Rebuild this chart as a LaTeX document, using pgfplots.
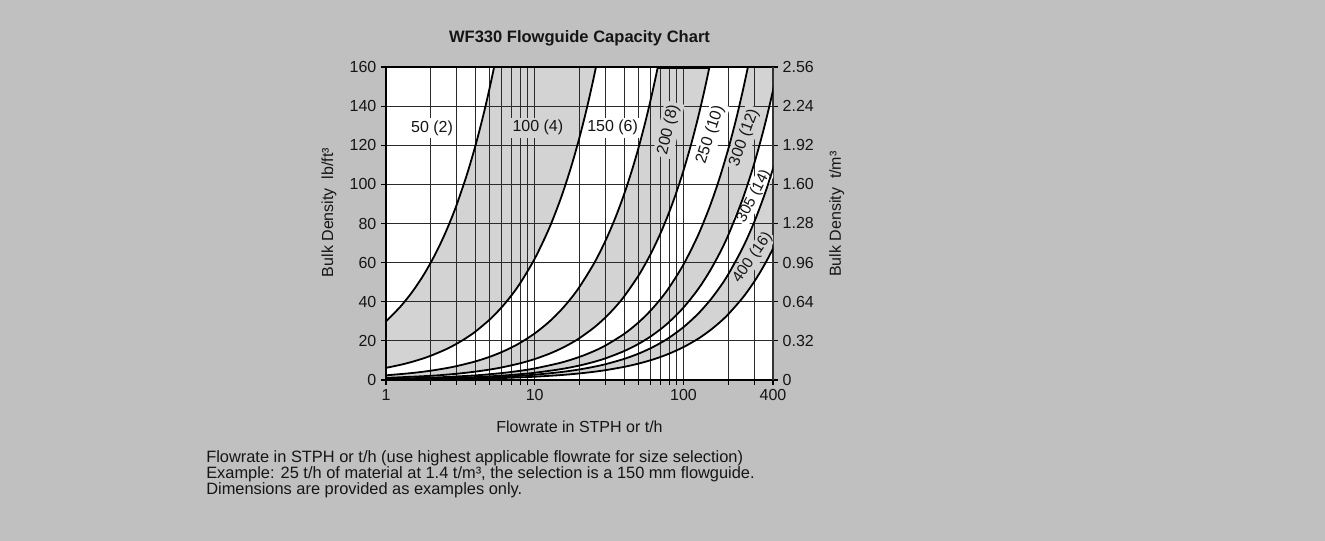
\documentclass[border=0pt]{standalone}
\usepackage{pgfplots}
\pgfplotsset{compat=1.18}
\usepackage{pgfplotstable}
\usepackage{fontspec}
\setmainfont{Liberation Sans}
\definecolor{bg}{HTML}{C0C0C0}
\definecolor{band}{HTML}{D3D3D3}
\definecolor{gridc}{HTML}{2A2A2A}
\definecolor{txt}{HTML}{151515}

\pgfplotstableread{
x y
1 30
1.25 37.5
1.5 45
1.75 52.5
2 60
2.25 67.5
2.5 75
2.75 82.5
3 90
3.5 105
4 120
4.5 135
5 150
5.5 165
6 180
450 180
}\cA
\pgfplotstableread{
x y
1 6.2
1.25 7.75
1.5 9.3
1.75 10.85
2 12.4
2.5 15.5
3 18.6
3.5 21.7
4 24.8
5 31
6 37.2
7 43.4
8 49.6
10 62
12.5 77.5
15 93
17.5 108.5
20 124
22.5 139.5
25 155
27.5 170.5
30 186
450 186
}\cB
\pgfplotstableread{
x y
1 2.38
1.5 3.57
2 4.76
2.5 5.95
3 7.14
4 9.52
5 11.9
6 14.28
7 16.66
8 19.04
10 23.8
12.5 29.75
15 35.7
17.5 41.65
20 47.6
25 59.5
30 71.4
35 83.3
40 95.2
45 107.1
50 119
55 130.9
60 142.8
65 154.7
70 166.6
75 178.5
450 178.5
}\cC
\pgfplotstableread{
x y
1 1.07
2 2.14
3 3.21
4 4.28
5 5.35
6 6.42
8 8.56
10 10.7
12.5 13.375
15 16.05
17.5 18.725
20 21.4
25 26.75
30 32.1
35 37.45
40 42.8
50 53.5
60 64.2
70 74.9
80 85.6
90 96.3
100 107
112.5 120.375
125 133.75
137.5 147.125
150 160.5
162.5 173.875
450 173.875
}\cD
\pgfplotstableread{
x y
1 0.59
2 1.18
4 2.36
6 3.54
8 4.72
10 5.9
15 8.85
20 11.8
25 14.75
30 17.7
40 23.6
50 29.5
60 35.4
70 41.3
80 47.2
100 59
125 73.75
150 88.5
175 103.25
200 118
225 132.75
250 147.5
275 162.25
300 177
450 177
}\cE
\pgfplotstableread{
x y
1 0.37
2 0.74
4 1.48
6 2.22
8 2.96
10 3.7
15 5.55
20 7.4
25 9.25
30 11.1
40 14.8
50 18.5
60 22.2
70 25.9
80 29.6
100 37
125 46.25
150 55.5
175 64.75
200 74
250 92.5
300 111
350 129.5
400 148
450 166.5
}\cF
\pgfplotstableread{
x y
1 0.27
2 0.54
4 1.08
6 1.62
8 2.16
10 2.7
15 4.05
20 5.4
25 6.75
30 8.1
40 10.8
50 13.5
60 16.2
70 18.9
80 21.6
100 27
125 33.75
150 40.5
175 47.25
200 54
250 67.5
300 81
350 94.5
400 108
450 121.5
}\cG
\pgfplotstableread{
x y
1 0.168
2 0.336
4 0.672
6 1.008
8 1.344
10 1.68
15 2.52
20 3.36
25 4.2
30 5.04
40 6.72
50 8.4
60 10.08
70 11.76
80 13.44
100 16.8
125 21
150 25.2
175 29.4
200 33.6
250 42
300 50.4
350 58.8
400 67.2
450 75.6
}\cH

\begin{document}
\begin{tikzpicture}
\useasboundingbox (0,0) rectangle (993.75pt,405.75pt);
\fill[bg] (0,0) rectangle (993.75pt,405.75pt);

\begin{axis}[
  at={(289.5pt,120.75pt)}, anchor=south west,
  scale only axis, width=290.25pt, height=234.75pt,
  xmode=log, xmin=1, xmax=400, ymin=0, ymax=160,
  tick align=outside,
  major tick length=3.75pt, minor tick length=3.75pt,
  tick style={black, line width=0.8pt},
  /pgf/number format/assume math mode=true,
  ticklabel style={font=\fontsize{12}{14}\selectfont, text=txt},
  axis background/.style={fill=white},
  xtick={1,10,100,400}, xticklabels={1,10,100,400},
  minor xtick={2,3,4,5,6,7,8,9,20,30,40,50,60,70,80,90,200,300},
  ytick={0,20,40,60,80,100,120,140,160},
  tick pos=left,
  grid=both,
  major grid style={gridc, line width=0.75pt},
  minor grid style={gridc, line width=0.75pt},
  axis on top,
  axis line style={black, line width=0.8pt},
  xlabel={Flowrate in STPH or t/h},
  every axis x label/.style={at={(axis description cs:0.5,-0.150)}, anchor=center, font=\fontsize{12}{14}\selectfont, text=txt},
  ylabel={Bulk Density~~lb/ft³},
  every axis y label/.style={at={(axis description cs:-0.147,0.535)}, rotate=90, anchor=center, font=\fontsize{12}{14}\selectfont, text=txt},
  title={WF330 Flowguide Capacity Chart},
  every axis title/.style={at={(axis description cs:0.5,1.093)}, anchor=center, font=\bfseries\fontsize{12.4}{14}\selectfont, text=txt},
]
\addplot[fill=band, draw=none, smooth] table {\cA} \closedcycle;
\addplot[fill=white, draw=none, smooth] table {\cB} \closedcycle;
\addplot[fill=band, draw=none, smooth] table {\cC} \closedcycle;
\addplot[fill=white, draw=none, smooth] table {\cD} \closedcycle;
\addplot[fill=band, draw=none, smooth] table {\cE} \closedcycle;
\addplot[fill=white, draw=none, smooth] table {\cF} \closedcycle;
\addplot[fill=band, draw=none, smooth] table {\cG} \closedcycle;
\addplot[fill=white, draw=none, smooth] table {\cH} \closedcycle;
\end{axis}

\begin{axis}[
  at={(289.5pt,120.75pt)}, anchor=south west,
  scale only axis, width=290.25pt, height=234.75pt,
  xmode=log, xmin=1, xmax=400, ymin=0, ymax=160,
  tick align=outside,
  major tick length=3.75pt, minor tick length=3.75pt,
  tick style={black, line width=0.8pt},
  /pgf/number format/assume math mode=true,
  ticklabel style={font=\fontsize{12}{14}\selectfont, text=txt},
  axis x line=none,
  axis y line*=right,
  axis line style={black!80, line width=0.8pt},
  ytick={0,20,40,60,80,100,120,140,160},
  yticklabels={0,0.32,0.64,0.96,1.28,1.60,1.92,2.24,2.56},
  ylabel={Bulk Density~~t/m³},
  every axis y label/.style={at={(axis description cs:1.165,0.53)}, rotate=90, anchor=center, font=\fontsize{12}{14}\selectfont, text=txt},
]
\node[font=\fontsize{12}{14}\selectfont, text=txt, fill=white, inner sep=2pt] at (axis cs:2.04,128.8) {50 (2)};
\node[font=\fontsize{12}{14}\selectfont, text=txt, fill=band, inner sep=2pt] at (axis cs:10.5,129) {100 (4)};
\node[font=\fontsize{12}{14}\selectfont, text=txt, fill=white, inner sep=2pt] at (axis cs:33.4,129) {150 (6)};
\node[font=\fontsize{12}{14}\selectfont, text=txt, fill=band, inner sep=2pt, rotate=77] at (axis cs:79.3,127.9) {200 (8)};
\node[font=\fontsize{12}{14}\selectfont, text=txt, fill=white, inner sep=2pt, rotate=72] at (axis cs:151.8,125.3) {250 (10)};
\node[font=\fontsize{12}{14}\selectfont, text=txt, fill=band, inner sep=2pt, rotate=70] at (axis cs:256.6,123.8) {300 (12)};
\node[font=\fontsize{11.5}{14}\selectfont, text=txt, fill=white, inner sep=1pt, rotate=63] at (axis cs:298,94) {305 (14)};
\node[font=\fontsize{11.5}{14}\selectfont, text=txt, fill=band, inner sep=1pt, rotate=55] at (axis cs:292,62.5) {400 (16)};
\addplot[black, line width=1.35pt, smooth] table {\cA};
\addplot[black, line width=1.35pt, smooth] table {\cB};
\addplot[black, line width=1.35pt, smooth] table {\cC};
\addplot[black, line width=1.35pt, smooth] table {\cD};
\addplot[black, line width=1.35pt, smooth] table {\cE};
\addplot[black, line width=1.35pt, smooth] table {\cF};
\addplot[black, line width=1.35pt, smooth] table {\cG};
\addplot[black, line width=1.35pt, smooth] table {\cH};
\addplot[black, line width=2.4pt] coordinates {(67.2,160) (149.5,160)};
\end{axis}

\node[anchor=base west, inner sep=0, font=\fontsize{12.3}{14}\selectfont, text=txt] at (154.5pt,58.5pt) {Flowrate in STPH or t/h (use highest applicable flowrate for size selection)};
\node[anchor=base west, inner sep=0, font=\fontsize{12.3}{14}\selectfont, text=txt] at (154.5pt,46.5pt) {Example: 25 t/h of material at 1.4 t/m³, the selection is a 150 mm flowguide.};
\node[anchor=base west, inner sep=0, font=\fontsize{12.3}{14}\selectfont, text=txt] at (154.5pt,34.75pt) {Dimensions are provided as examples only.};
\end{tikzpicture}
\end{document}
